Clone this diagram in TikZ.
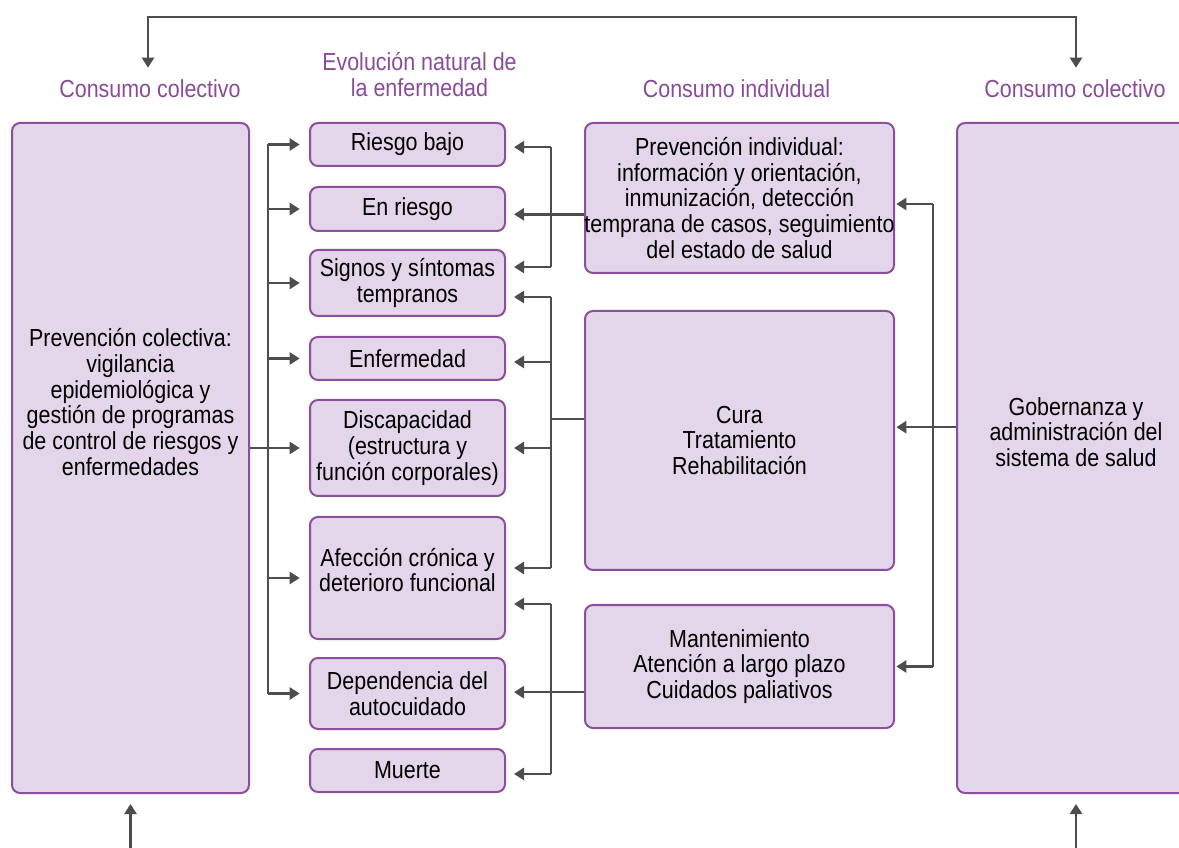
\documentclass[tikz,border=0pt]{standalone}
\usepackage{fontspec}
\setmainfont[FakeStretch=0.87]{Liberation Sans}
\usetikzlibrary{arrows.meta}
\definecolor{boxfill}{HTML}{E3D6EA}
\definecolor{boxline}{HTML}{8B4F9B}
\definecolor{headcol}{HTML}{8A4C98}
\definecolor{wirecol}{HTML}{4D4D4D}
\begin{document}
\begin{tikzpicture}[x=0.75pt,y=-0.75pt,
  lbl/.style={font=\fontsize{18.5}{19.3}\selectfont, align=center, inner sep=0pt},
  box/.style={lbl, draw=boxline, fill=boxfill, line width=1.5pt, rounded corners=6pt},
  sz/.style 2 args={minimum width=#1*0.75pt, minimum height=#2*0.75pt},
  head/.style={lbl, text=headcol},
  wire/.style={draw=wirecol, line width=1.9pt},
  arr/.style={wire, -{Triangle[length=7.5pt,width=9pt]}},
  arrs/.style={wire, {Triangle[length=7.5pt,width=9pt]}-{Triangle[length=7.5pt,width=9pt]}},
]
\useasboundingbox (0,0) rectangle (1179,848);

% column headings
\node[head] (hl) at (150,89) {Consumo colectivo};
\node[head] (hn) at (419.5,74.5) {Evolución natural de\\la enfermedad};
\node[head] (hi) at (736.5,89) {Consumo individual};
\node[head] (hr) at (1075,89) {Consumo colectivo};

% collective consumption boxes
\node[box, sz={237}{670}] (lbox) at (130.5,458) {};
\node[lbl] (ltxt) at (130.5,402) {Prevención colectiva:\\vigilancia\\epidemiológica y\\gestión de programas\\de control de riesgos y\\enfermedades};
\node[box, sz={238}{670}] (gob) at (1076,458) {};
\node[lbl] (gtxt) at (1076,432) {Gobernanza y\\administración del\\sistema de salud};

% natural history of disease
\node[box, sz={195}{43}]  (rb)  at (407.5,144.5) {Riesgo bajo};
\node[box, sz={195}{44}]  (er)  at (407.5,209)   {En riesgo};
\node[box, sz={195}{66}]  (sig) at (407.5,283)   {Signos y síntomas\\tempranos};
\node[box, sz={195}{43}]  (enf) at (407.5,358.5) {Enfermedad};
\node[box, sz={195}{96}]  (dis) at (407.5,448)   {Discapacidad\\(estructura y\\función corporales)};
\node[box, sz={195}{122}] (afe) at (407.5,578)   {};
\node[lbl] (atxt) at (407.5,570) {Afección crónica y\\deterioro funcional};
\node[box, sz={195}{71}]  (dep) at (407.5,693.5) {Dependencia del\\autocuidado};
\node[box, sz={195}{43}]  (mu)  at (407.5,770.5) {Muerte};

% individual consumption
\node[box, sz={309}{150}] (pi)   at (739.5,198)   {};
\node[lbl] (ptxt) at (739.5,198) {Prevención individual:\\información y orientación,\\inmunización, detección\\temprana de casos, seguimiento\\del estado de salud};
\node[box, sz={309}{259}] (cura) at (739.5,440.5) {Cura\\Tratamiento\\Rehabilitación};
\node[box, sz={309}{123}] (mant) at (739.5,666.5) {Mantenimiento\\Atención a largo plazo\\Cuidados paliativos};

% bus lines
\coordinate (lbus) at (268,0);
\coordinate (mbus) at (551,0);
\coordinate (rbus) at (933,0);
\coordinate (top) at (0,17);
\coordinate (bot) at (0,848);

% feedback loop between the two collective columns
\draw[arrs, shorten <=9pt, shorten >=9pt] (hl.north -| 148,0) -- (148,0 |- top) -- (1076,0 |- top) -- (hr.north -| 1076,0);
\draw[arr, shorten >=7.5pt] (lbox.south |- bot) -- (lbox.south);
\draw[arr, shorten >=7.5pt] (gob.south |- bot) -- (gob.south);

% collective prevention to every stage
\draw[wire] (lbus |- rb.west) -- (lbus |- dep.west);
\draw[wire] (lbox.east |- dis.west) -- (lbus |- dis.west);
\foreach \n in {rb,er,sig,enf,dis,afe,dep}
  \draw[arr, shorten >=7pt] (lbus |- \n.west) -- (\n.west);

% individual prevention
\coordinate (rb-in)   at ([yshift=-2pt]rb.east);
\coordinate (er-in)   at ([yshift=-4pt]er.east);
\coordinate (sig-in1) at ([yshift=12pt]sig.east);
\draw[wire] (mbus |- rb-in) -- (mbus |- sig-in1);
\draw[arr, shorten >=6pt] (pi.west |- er-in) -- (er-in);
\draw[arr, shorten >=6pt] (mbus |- rb-in) -- (rb-in);
\draw[arr, shorten >=6pt] (mbus |- sig-in1) -- (sig-in1);

% cure, treatment, rehabilitation
\coordinate (cura-out) at ([yshift=16pt]cura.west);
\coordinate (sig-in2)  at ([yshift=-10.5pt]sig.east);
\coordinate (enf-in)   at ([yshift=-2.6pt]enf.east);
\coordinate (dis-in)   at (dis.east);
\coordinate (afe-in1)  at ([yshift=7.5pt]afe.east);
\draw[wire] (cura-out) -- (mbus |- cura-out);
\draw[wire] (mbus |- sig-in2) -- (mbus |- afe-in1);
\foreach \n in {sig-in2,enf-in,dis-in,afe-in1}
  \draw[arr, shorten >=6pt] (mbus |- \n) -- (\n);

% long-term care
\coordinate (afe-in2) at ([yshift=-19.5pt]afe.east);
\coordinate (dep-in)  at ([yshift=1pt]dep.east);
\coordinate (mu-in)   at ([yshift=-2.6pt]mu.east);
\draw[wire] (mbus |- afe-in2) -- (mbus |- mu-in);
\draw[arr, shorten >=6pt] (mant.west |- dep-in) -- (dep-in);
\draw[arr, shorten >=6pt] (mbus |- afe-in2) -- (afe-in2);
\draw[arr, shorten >=6pt] (mbus |- mu-in) -- (mu-in);

% governance to individual services
\coordinate (cura-r) at ([yshift=10pt]cura.east);
\coordinate (pi-r)   at ([yshift=-4.5pt]pi.east);
\coordinate (mant-r) at (mant.east);
\draw[arr, shorten >=1pt] (gob.west |- cura-r) -- (cura-r);
\draw[wire] (rbus |- pi-r) -- (rbus |- mant-r);
\draw[arr, shorten >=1pt] (rbus |- pi-r) -- (pi-r);
\draw[arr, shorten >=1pt] (rbus |- mant-r) -- (mant-r);
\end{tikzpicture}
\end{document}
